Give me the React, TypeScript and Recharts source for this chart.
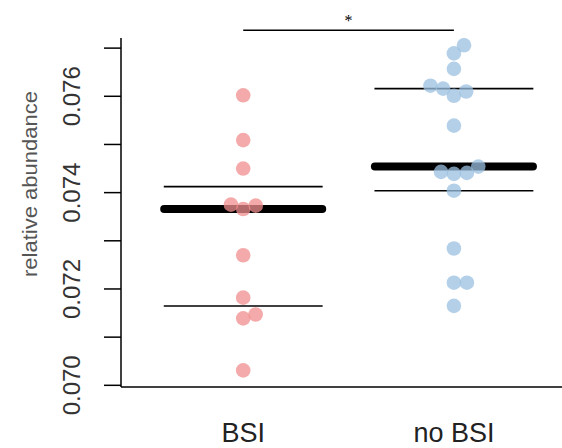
import React from 'react';
import { ComposedChart, Scatter, XAxis, YAxis, ReferenceLine, Label } from 'recharts';

// groups and the relative abundance of every sample
const groups = ['BSI', 'no BSI'];
const bsiValues = [0.07602, 0.07509, 0.0745, 0.07375, 0.07366, 0.07373, 0.0727, 0.07182, 0.07139, 0.07147, 0.07031];
const noBsiValues = [
  0.07706, 0.07689, 0.07657, 0.07622, 0.07616, 0.07601, 0.0761, 0.07539, 0.07454,
  0.07443, 0.07439, 0.07441, 0.07404, 0.07284, 0.07213, 0.07213, 0.07165,
];
const yTicks = [0.07, 0.071, 0.072, 0.073, 0.074, 0.075, 0.076, 0.077];
const yTickLabels = ['0.070', '0.072', '0.074', '0.076'];
const yLabel = 'relative abundance';
const significance = '*';

const WIDTH = 562;
const HEIGHT = 448;
const MARGIN = { top: 38, right: 0, bottom: 0, left: 0 };
const Y_AXIS_W = 121;
const X_AXIS_H = 61;
const Y_DOMAIN: [number, number] = [0.069965, 0.07721];
const X_DOMAIN: [number, number] = [-0.58, 1.513];
const SIG_LEVEL = 0.07737;
const DOT_R = 7.3;
const SWARM_GAP = 13;

const PINK = '#F08E8E';
const BLUE = '#9BC0E0';
const FONT = 'Liberation Sans, Arial, sans-serif';

const plotW = WIDTH - Y_AXIS_W - MARGIN.left - MARGIN.right;
const plotH = HEIGHT - X_AXIS_H - MARGIN.top - MARGIN.bottom;
const pxPerX = plotW / (X_DOMAIN[1] - X_DOMAIN[0]);
const pxPerY = plotH / (Y_DOMAIN[1] - Y_DOMAIN[0]);

// R-like quantile (type 7)
const quantile = (vals: number[], p: number) => {
  const s = [...vals].sort((a, b) => a - b);
  const h = (s.length - 1) * p;
  const lo = Math.floor(h);
  const hi = Math.ceil(h);
  return s[lo] + (s[hi] - s[lo]) * (h - lo);
};

// beeswarm layout: each point takes the free spot closest to the centre line
const swarm = (vals: number[], center: number) => {
  const sorted = [...vals].sort((a, b) => a - b);
  const placed: { x: number; y: number }[] = [];
  sorted.forEach((v) => {
    const y = v * pxPerY;
    const cands = [0];
    placed.forEach((p) => {
      const dy = Math.abs(p.y - y);
      if (dy < SWARM_GAP) {
        const dx = Math.sqrt(SWARM_GAP * SWARM_GAP - dy * dy);
        cands.push(p.x + dx, p.x - dx);
      }
    });
    const ok = cands.filter((c) =>
      placed.every((p) => Math.hypot(p.x - c, p.y - y) >= SWARM_GAP - 1e-6)
    );
    ok.sort((a, b) => Math.abs(a) - Math.abs(b) || b - a);
    placed.push({ x: ok[0], y });
  });
  return placed.map((p, i) => ({ x: center + p.x / pxPerX, y: sorted[i] }));
};

const series = [
  { name: groups[0], values: bsiValues, color: PINK },
  { name: groups[1], values: noBsiValues, color: BLUE },
].map((s, i) => ({
  ...s,
  idx: i,
  points: swarm(s.values, i),
  q1: quantile(s.values, 0.25),
  med: quantile(s.values, 0.5),
  q3: quantile(s.values, 0.75),
}));

const Dot = (props: any) => (
  <circle cx={props.cx} cy={props.cy} r={DOT_R} fill={props.fill} fillOpacity={0.75} />
);

const YTick = (props: any) => {
  const v = Number(props.payload.value).toFixed(3);
  if (!yTickLabels.includes(v)) return null;
  return (
    <text
      x={80}
      y={props.y}
      transform={`rotate(-90, 80, ${props.y})`}
      textAnchor="middle"
      fontSize={24}
      fill="#333"
      fontFamily={FONT}
    >
      {v}
    </text>
  );
};

const XTick = (props: any) => (
  <text x={props.x} y={442} textAnchor="middle" fontSize={27} fill="#222" fontFamily={FONT}>
    {groups[props.payload.value]}
  </text>
);

export default function App() {
  return (
    <div style={{ position: 'absolute', left: 0, top: 0, background: '#fff' }}>
      <ComposedChart width={WIDTH} height={HEIGHT} margin={MARGIN}>
        <XAxis
          type="number"
          dataKey="x"
          domain={X_DOMAIN}
          ticks={[0, 1]}
          allowDataOverflow
          height={X_AXIS_H}
          tickLine={false}
          axisLine={{ stroke: '#000', strokeWidth: 1.5 }}
          tick={<XTick />}
        />
        <YAxis
          type="number"
          dataKey="y"
          domain={Y_DOMAIN}
          ticks={yTicks}
          allowDataOverflow
          width={Y_AXIS_W}
          tickSize={17}
          tickLine={{ stroke: '#000', strokeWidth: 1.5 }}
          axisLine={{ stroke: '#000', strokeWidth: 1.5 }}
          tick={<YTick />}
        >
          <Label
            content={() => (
              <text
                x={37}
                y={184}
                transform="rotate(-90, 37, 184)"
                textAnchor="middle"
                fontSize={20}
                textLength={186}
                lengthAdjust="spacingAndGlyphs"
                fill="#555"
                fontFamily={FONT}
              >
                {yLabel}
              </text>
            )}
          />
        </YAxis>
        {series.map((s) => (
          <Scatter
            key={s.name}
            name={s.name}
            data={s.points}
            fill={s.color}
            shape={<Dot />}
            isAnimationActive={false}
          />
        ))}
        {series.map((s) => [
          <ReferenceLine
            key={s.name + 'q1'}
            segment={[{ x: s.idx - 0.377, y: s.q1 }, { x: s.idx + 0.377, y: s.q1 }]}
            stroke="#000"
            strokeWidth={1.6}
            ifOverflow="visible"
          />,
          <ReferenceLine
            key={s.name + 'q3'}
            segment={[{ x: s.idx - 0.377, y: s.q3 }, { x: s.idx + 0.377, y: s.q3 }]}
            stroke="#000"
            strokeWidth={1.6}
            ifOverflow="visible"
          />,
          <ReferenceLine
            key={s.name + 'med'}
            segment={[{ x: s.idx - 0.375, y: s.med }, { x: s.idx + 0.375, y: s.med }]}
            stroke="#000"
            strokeWidth={8}
            strokeLinecap="round"
            ifOverflow="visible"
          />,
        ])}
        <ReferenceLine
          segment={[{ x: 0, y: SIG_LEVEL }, { x: 1, y: SIG_LEVEL }]}
          stroke="#000"
          strokeWidth={1.5}
          ifOverflow="visible"
        >
          <Label value={significance} position="top" fontSize={16} fill="#000" offset={4} />
        </ReferenceLine>
      </ComposedChart>
    </div>
  );
}
